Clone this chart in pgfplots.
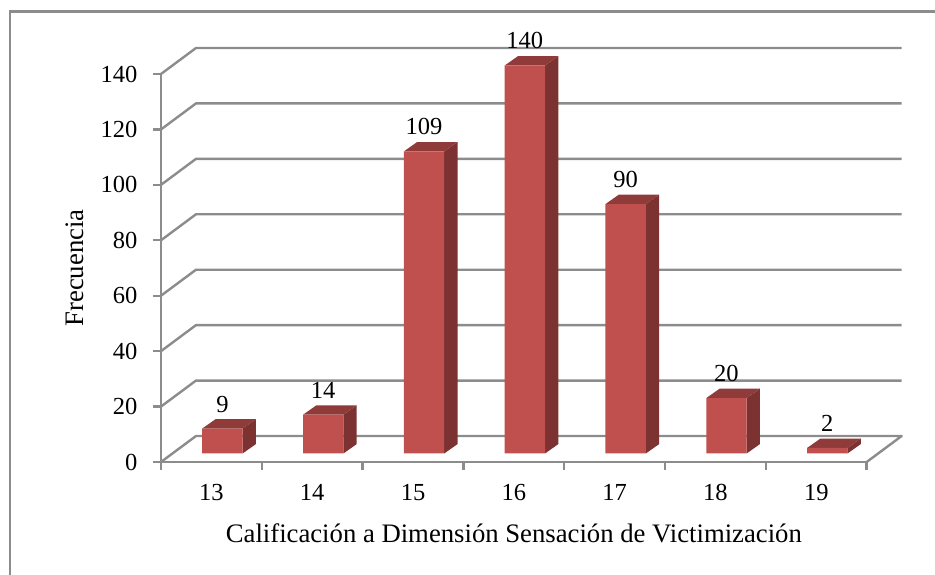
\documentclass[border=0pt]{standalone}
\usepackage{fontspec}
\setmainfont{Liberation Serif}
\usepackage{pgfplots}
\pgfplotsset{compat=1.18}

\definecolor{gridgray}{HTML}{8C8C8C}
\definecolor{barfront}{HTML}{C0504D}
\definecolor{bartop}{HTML}{8E3B39}
\definecolor{barside}{HTML}{7C3230}

% x range and size shared by the frame axis and the bar axis (1pt = 1px)
\pgfplotsset{
  chartarea/.style={
    scale only axis,
    width=705.7pt,
    height=388pt,
    xmin=12.5, xmax=19.5,
    ymin=0, ymax=140,
    clip=false,
  },
  backline/.style={gridgray, line width=2.4pt, line join=round, forget plot},
}

% side and top faces of one bar: category, value
\newcommand{\depthfaces}[2]{%
  \pgfmathsetmacro\xl{#1-0.2}%
  \pgfmathsetmacro\xr{#1+0.2}%
  \pgfmathsetmacro\xll{#1-0.2+0.132}%
  \pgfmathsetmacro\xrr{#1+0.2+0.132}%
  \pgfmathsetmacro\yb{3.39}%
  \pgfmathsetmacro\yt{#2+3.39}%
  \addplot[fill=barside, draw=none, forget plot] coordinates {(\xr,0) (\xrr,\yb) (\xrr,\yt) (\xr,#2)};
  \addplot[fill=bartop, draw=none, forget plot] coordinates {(\xl,#2) (\xll,\yt) (\xrr,\yt) (\xr,#2)};
}

\begin{document}
\begin{tikzpicture}
  \useasboundingbox (-161pt,-113pt) rectangle (774pt,462pt);
  \draw[gridgray, line width=2.2pt] (-151pt,-113pt) -- (-151pt,450.5pt) -- (774pt,450.5pt);

  \begin{axis}[
    chartarea,
    axis x line*=bottom,
    axis y line*=left,
    axis line style={draw=gridgray, line width=2.4pt, -},
    tick style={draw=gridgray, line width=2.4pt},
    tick align=outside,
    major tick length=8pt,
    xtick={12.5,13.5,...,19.5},
    xticklabels={13,14,15,16,17,18,19},
    x tick label as interval,
    ytick={0,20,...,140},
    /pgf/number format/assume math mode=true,
    tick label style={font=\fontsize{24.5}{28}\selectfont, text=black},
    yticklabel style={xshift=-12pt},
    xticklabel style={yshift=-11pt},
    xlabel={Calificación a Dimensión Sensación de Victimización},
    ylabel={Frecuencia},
    label style={font=\fontsize{26.7}{30}\selectfont},
    xlabel style={at={(axis description cs:0.5,0)}, anchor=base, yshift=-81pt},
    ylabel style={at={(axis description cs:0,0.5)}, anchor=base, yshift=77pt},
  ]
    \addplot[backline] coordinates {(12.5,0) (12.847,9.38) (19.847,9.38) (19.5,0)};
    \addplot[backline] coordinates {(12.5,20) (12.847,29.38) (19.847,29.38)};
    \addplot[backline] coordinates {(12.5,40) (12.847,49.38) (19.847,49.38)};
    \addplot[backline] coordinates {(12.5,60) (12.847,69.38) (19.847,69.38)};
    \addplot[backline] coordinates {(12.5,80) (12.847,89.38) (19.847,89.38)};
    \addplot[backline] coordinates {(12.5,100) (12.847,109.38) (19.847,109.38)};
    \addplot[backline] coordinates {(12.5,120) (12.847,129.38) (19.847,129.38)};
    \addplot[backline] coordinates {(12.5,140) (12.847,149.38) (19.847,149.38)};
  \end{axis}

  % bars stand a little behind the front edge of the floor
  \begin{axis}[
    chartarea,
    shift={(11pt,8.5pt)},
    hide axis,
  ]
    \depthfaces{13}{9}
    \depthfaces{14}{14}
    \depthfaces{15}{109}
    \depthfaces{16}{140}
    \depthfaces{17}{90}
    \depthfaces{18}{20}
    \depthfaces{19}{2}
    \addplot[
      ybar, bar width=40.4pt, fill=barfront, draw=none,
      nodes near coords,
      every node near coord/.style={
        anchor=base, yshift=16.5pt, text=black,
        font=\fontsize{24.5}{28}\selectfont,
        /pgf/number format/assume math mode=true,
      },
    ] coordinates {(13,9) (14,14) (15,109) (16,140) (17,90) (18,20) (19,2)};
  \end{axis}
\end{tikzpicture}
\end{document}
